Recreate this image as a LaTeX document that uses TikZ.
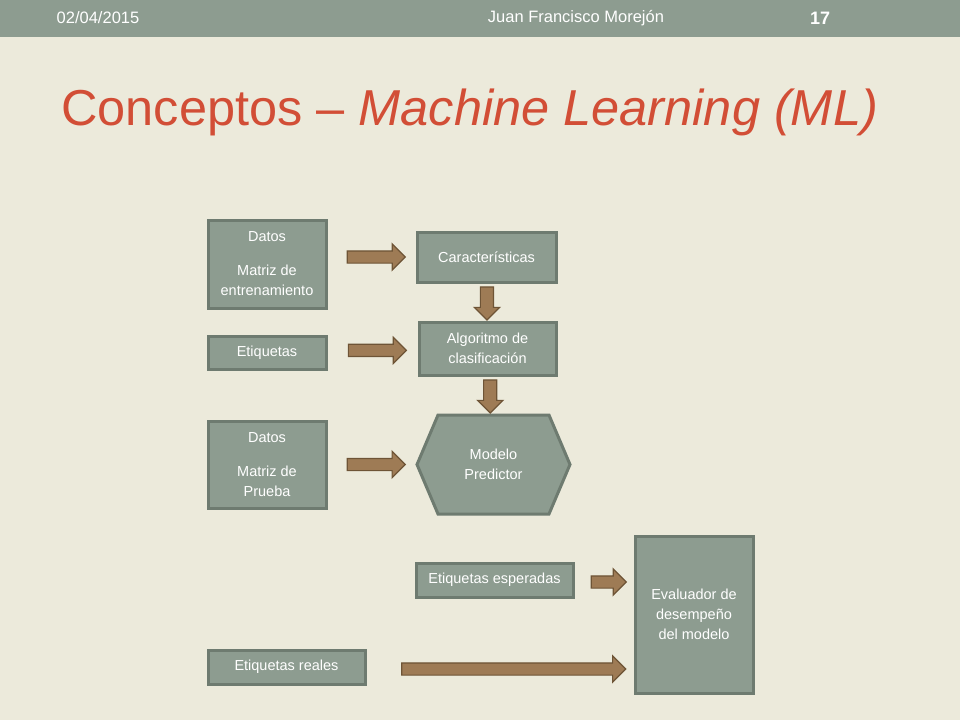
\documentclass[tikz,border=0pt]{standalone}
\usepackage{fontspec}
\setmainfont{Liberation Sans}
\usepackage{xcolor}
\usetikzlibrary{shapes,shapes.arrows,shapes.symbols,positioning,calc}
\definecolor{paper}{HTML}{ECEADB}
\definecolor{sage}{HTML}{8D9C90}
\definecolor{sageline}{HTML}{6E7B70}
\definecolor{bronze}{HTML}{9E7B55}
\definecolor{bronzeline}{HTML}{6E5436}
\definecolor{titlered}{HTML}{D24E36}
\tikzset{
  databox/.style={draw=sageline, fill=sage, line width=3pt, text=white, align=center,
    font=\fontsize{14.5}{20}\selectfont, inner sep=0pt},
  blockarrow/.style={single arrow, draw=bronzeline, fill=bronze, line width=1.2pt,
    inner xsep=0pt, inner ysep=5.5pt, single arrow head extend=7pt,
    single arrow tip angle=90},
}
\begin{document}
\begin{tikzpicture}[x=1pt, y=-1pt]
    \useasboundingbox (0,0) rectangle (960,720);
    \fill[paper] (0,0) rectangle (960,720);
    % header bar
    \fill[sage] (0,0) rectangle (960,37);
    \node[text=white, font=\fontsize{16.5}{18}\selectfont] (date) at (98,18) {02/04/2015};
    \node[text=white, font=\fontsize{16.5}{18}\selectfont] (author) at (576,18) {Juan Francisco Morejón};
    \node[text=white, font=\fontsize{18}{20}\selectfont\bfseries] (page) at (820,18) {17};
    \node[anchor=base west, inner sep=0pt, text=titlered, font=\fontsize{50.5}{56}\selectfont] (title) at (61,125)
        {Conceptos -- \textit{Machine Learning (ML)}};

    % left column
    \node[databox, minimum width=118pt, minimum height=88pt] (train) at (267,264) {Datos\\[14pt] Matriz de\\ entrenamiento};
    \node[databox, minimum width=118pt, minimum height=33pt, below=25pt of train] (labels) {Etiquetas};
    \node[databox, minimum width=118pt, minimum height=87pt, below=49pt of labels] (test) {Datos\\[14pt] Matriz de\\ Prueba};
    \node[databox, minimum width=157pt, minimum height=34pt] (real) at (286.5,667) {Etiquetas reales};

    % middle column
    \node[databox, minimum width=139pt, minimum height=50pt] (features) at (486.5,257) {Características};
    \node[databox, minimum width=137pt, minimum height=53pt] (algo) at (487.5,348.5) {Algoritmo de\\ clasificación};
    \node[databox, signal, signal to=east and west, signal pointer angle=134,
        minimum width=153pt, minimum height=99pt] (model) at (493.5,464.5) {Modelo\\ Predictor};
    \node[databox, minimum width=157pt, minimum height=34pt] (expected) at (494.5,580) {Etiquetas esperadas};
    \node[databox, minimum width=118pt, minimum height=157pt] (evaluator) at (694,614.5) {Evaluador de\\ desempeño\\ del modelo};

    % arrows
    \path (train.east |- features) -- (features.west) node[pos=0.52, blockarrow, minimum height=58pt] {};
    \path (labels.east) -- (algo.west) node[pos=0.52, blockarrow, minimum height=58pt] {};
    \path (test.east |- model) -- (model.west) node[pos=0.52, blockarrow, minimum height=58pt] {};
    \path (features.south) -- (algo.north) node[pos=0.45, blockarrow, rotate=-90, minimum height=33pt, inner ysep=6pt, single arrow head extend=6pt] {};
    \path (algo.south) -- (model.north) node[pos=0.45, blockarrow, rotate=-90, minimum height=33pt, inner ysep=6pt, single arrow head extend=6pt] {};
    \path ([yshift=-2pt]expected.east) -- ([yshift=-2pt]expected.east -| evaluator.west) node[pos=0.53, blockarrow, minimum height=35pt] {};
    \path ([yshift=-2pt]real.east) -- ([yshift=-2pt]real.east -| evaluator.west) node[pos=0.54, blockarrow, minimum height=224pt] {};
\end{tikzpicture}
\end{document}
